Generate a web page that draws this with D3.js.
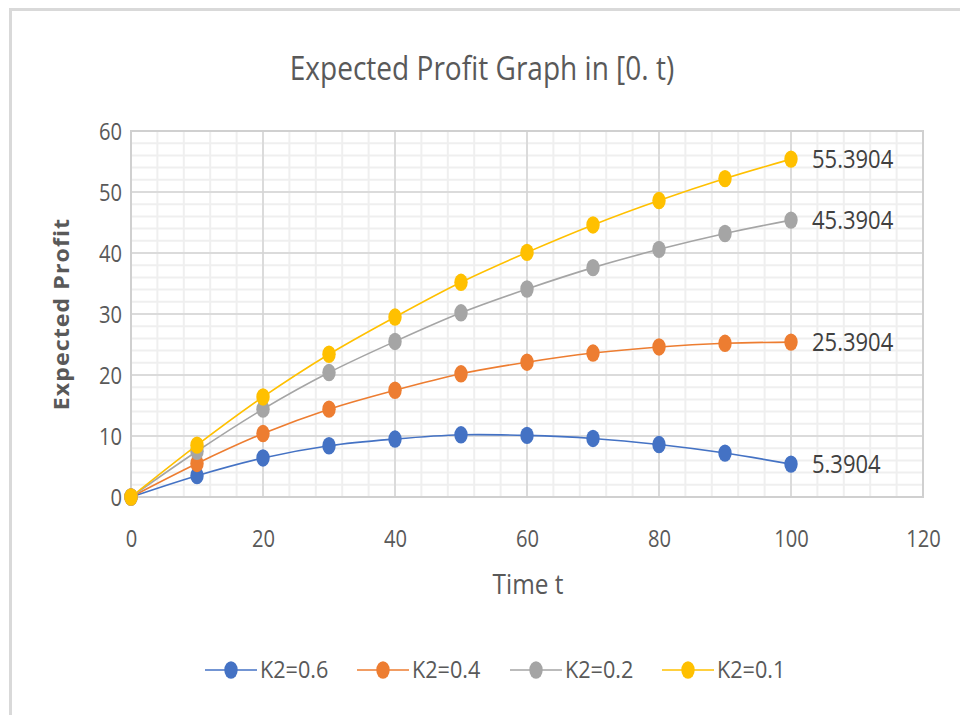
<!DOCTYPE html>
<html>
<head>
<meta charset="utf-8">
<script src="https://cdn.jsdelivr.net/npm/d3@7"></script>
<style>
  html, body { margin: 0; padding: 0; background: #fff; }
  svg { display: block; }
  text { font-family: "Open Sans", sans-serif; fill: #595959; }
</style>
</head>
<body>
<svg id="chart" width="960" height="715"></svg>
<script>
// Time points and expected profit per K2 setting
const times = [0, 10, 20, 30, 40, 50, 60, 70, 80, 90, 100];
const seriesNames = ["K2=0.6", "K2=0.4", "K2=0.2", "K2=0.1"];
const profitK06 = [0, 3.5, 6.4, 8.4, 9.5, 10.2, 10.1, 9.6, 8.6, 7.2, 5.3904];
const profitK04 = [0, 5.5, 10.4, 14.4, 17.5, 20.2, 22.1, 23.6, 24.6, 25.2, 25.3904];
const profitK02 = [0, 7.5, 14.4, 20.4, 25.5, 30.2, 34.1, 37.6, 40.6, 43.2, 45.3904];
const profitK01 = [0, 8.5, 16.4, 23.4, 29.5, 35.2, 40.1, 44.6, 48.6, 52.2, 55.3904];
const seriesColors = ["#4472c4", "#ed7d31", "#a5a5a5", "#ffc000"];
const xTicks = [0, 20, 40, 60, 80, 100, 120];
const yTicks = [0, 10, 20, 30, 40, 50, 60];

const allSeries = [profitK06, profitK04, profitK02, profitK01];

// Narrow text: horizontal squeeze applied around the anchor point
const SQUEEZE = 0.84;

const svg = d3.select("#chart");

// Chart frame
svg.append("rect")
  .attr("x", 10.5).attr("y", 9.5)
  .attr("width", 970).attr("height", 720)
  .attr("fill", "#fff").attr("stroke", "#d9d9d9").attr("stroke-width", 3);

const plot = { left: 131, right: 923, top: 131, bottom: 497 };
const x = d3.scaleLinear().domain([0, 120]).range([plot.left, plot.right]);
const y = d3.scaleLinear().domain([0, 60]).range([plot.bottom, plot.top]);

// Minor gridlines
const g = svg.append("g");
g.selectAll(".vminor").data(d3.range(0, 121, 4)).join("line")
  .attr("x1", d => x(d)).attr("x2", d => x(d))
  .attr("y1", plot.top).attr("y2", plot.bottom)
  .attr("stroke", "#efefef").attr("stroke-width", 2);
g.selectAll(".hminor").data(d3.range(0, 61, 2)).join("line")
  .attr("x1", plot.left).attr("x2", plot.right)
  .attr("y1", d => y(d)).attr("y2", d => y(d))
  .attr("stroke", "#efefef").attr("stroke-width", 2);

// Major gridlines
g.selectAll(".vmajor").data(xTicks).join("line")
  .attr("x1", d => x(d)).attr("x2", d => x(d))
  .attr("y1", plot.top).attr("y2", plot.bottom)
  .attr("stroke", "#d4d4d4").attr("stroke-width", 1.5);
g.selectAll(".hmajor").data(yTicks).join("line")
  .attr("x1", plot.left).attr("x2", plot.right)
  .attr("y1", d => y(d)).attr("y2", d => y(d))
  .attr("stroke", "#d4d4d4").attr("stroke-width", 1.5);

// Plot area border
svg.append("rect")
  .attr("x", plot.left).attr("y", plot.top)
  .attr("width", plot.right - plot.left).attr("height", plot.bottom - plot.top)
  .attr("fill", "none").attr("stroke", "#d0d0d0").attr("stroke-width", 2);

// Axes (labels only, lines come from the grid)
const xAxis = svg.append("g")
  .attr("transform", `translate(0,${plot.bottom})`)
  .call(d3.axisBottom(x).tickValues(xTicks).tickSize(0).tickPadding(0));
xAxis.select(".domain").remove();
xAxis.selectAll("text")
  .attr("y", 0).attr("dy", null)
  .attr("transform", `translate(0,50) scale(${SQUEEZE},1)`)
  .style("font-size", "24px").style("fill", "#595959")
  .style("font-family", '"Open Sans", sans-serif');

const yAxis = svg.append("g")
  .attr("transform", `translate(${plot.left},0)`)
  .call(d3.axisLeft(y).tickValues(yTicks).tickSize(0).tickPadding(0));
yAxis.select(".domain").remove();
yAxis.selectAll("text")
  .attr("x", 0).attr("dy", "0.35em")
  .attr("transform", `translate(-9,0) scale(${SQUEEZE},1)`)
  .style("font-size", "24px").style("fill", "#595959")
  .style("font-family", '"Open Sans", sans-serif');

// Series lines (smoothed) and markers
const line = d3.line()
  .x((d, i) => x(times[i]))
  .y(d => y(d))
  .curve(d3.curveCatmullRom.alpha(0.5));

allSeries.forEach((vals, si) => {
  const sg = svg.append("g");
  sg.append("path")
    .attr("d", line(vals))
    .attr("fill", "none")
    .attr("stroke", seriesColors[si])
    .attr("stroke-width", 1.6);
  sg.selectAll("ellipse").data(vals).join("ellipse")
    .attr("cx", (d, i) => x(times[i]))
    .attr("cy", d => y(d))
    .attr("rx", 6.7).attr("ry", 8.7)
    .attr("fill", seriesColors[si]);
  // Value label at the last point
  const last = vals[vals.length - 1];
  sg.append("text")
    .attr("transform", `translate(${x(times[times.length - 1]) + 21},${y(last)}) scale(0.88,1)`)
    .attr("dy", "0.35em")
    .style("font-size", "25px")
    .style("fill", "#404040")
    .text(last);
});

// Title
svg.append("text")
  .attr("transform", `translate(482,80) scale(0.85,1)`)
  .attr("text-anchor", "middle")
  .style("font-size", "33px")
  .text("Expected Profit Graph in [0. t)");

// Axis titles
svg.append("text")
  .attr("transform", `translate(528,594) scale(0.87,1)`)
  .attr("text-anchor", "middle")
  .style("font-size", "28px")
  .text("Time t");

svg.append("text")
  .attr("transform", `translate(69,314) rotate(-90) scale(1.1,1)`)
  .attr("text-anchor", "middle")
  .style("font-size", "21px")
  .style("font-weight", "bold")
  .style("letter-spacing", "1px")
  .text("Expected Profit");

// Legend
const legendX = [205, 357, 510, 662];
const legend = svg.append("g");
seriesNames.forEach((name, i) => {
  const lx = legendX[i];
  const ly = 670;
  legend.append("line")
    .attr("x1", lx).attr("x2", lx + 52)
    .attr("y1", ly).attr("y2", ly)
    .attr("stroke", seriesColors[i]).attr("stroke-width", 1.6);
  legend.append("ellipse")
    .attr("cx", lx + 26).attr("cy", ly)
    .attr("rx", 6.7).attr("ry", 8.7)
    .attr("fill", seriesColors[i]);
  legend.append("text")
    .attr("transform", `translate(${lx + 55},${ly}) scale(0.9,1)`)
    .attr("dy", "0.35em")
    .style("font-size", "24px")
    .text(name);
});
</script>
</body>
</html>
